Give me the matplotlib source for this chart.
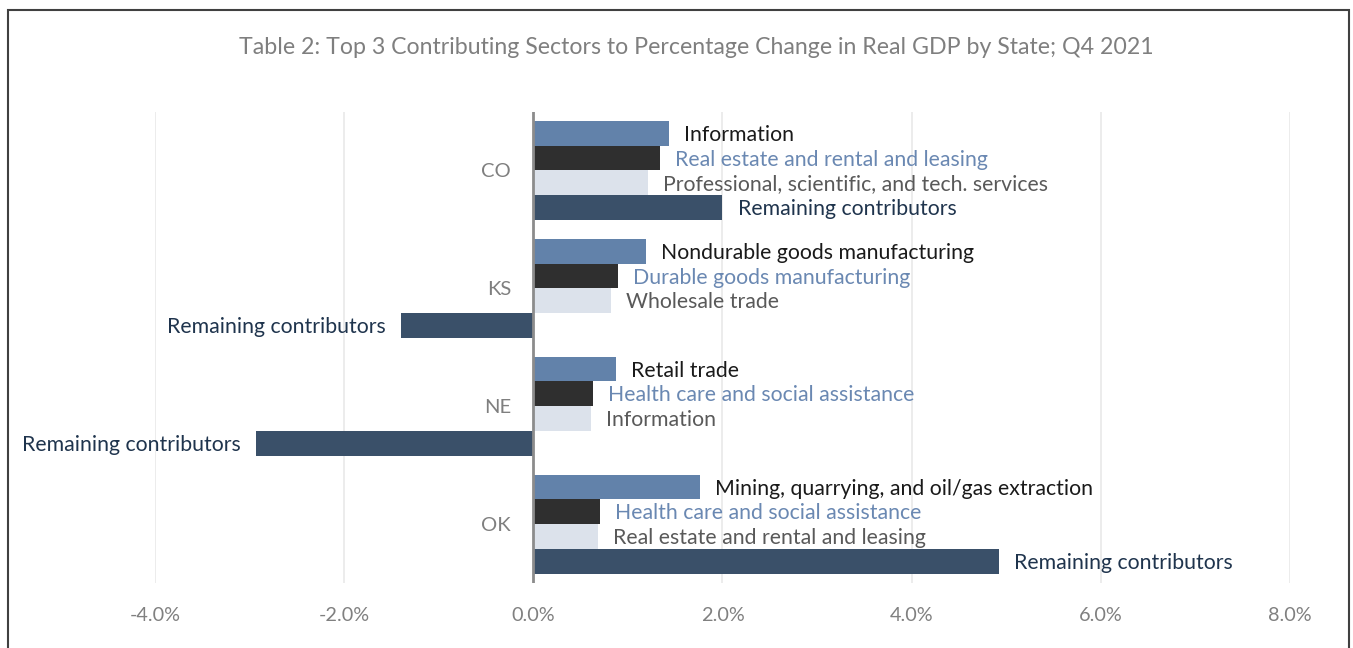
import matplotlib
matplotlib.use("Agg")
import matplotlib.pyplot as plt
import numpy as np
from matplotlib.patches import Rectangle
from matplotlib.ticker import FuncFormatter

plt.rcParams["font.family"] = ["Lato", "DejaVu Sans"]

states = ["CO", "KS", "NE", "OK"]

top1_names = ["Information", "Nondurable goods manufacturing", "Retail trade",
              "Mining, quarrying, and oil/gas extraction"]
top2_names = ["Real estate and rental and leasing", "Durable goods manufacturing",
              "Health care and social assistance", "Health care and social assistance"]
top3_names = ["Professional, scientific, and tech. services", "Wholesale trade",
              "Information", "Real estate and rental and leasing"]
remaining_names = ["Remaining contributors"] * 4

top1_values = [1.43, 1.19, 0.87, 1.76]
top2_values = [1.34, 0.89, 0.63, 0.70]
top3_values = [1.21, 0.82, 0.61, 0.68]
remaining_values = [2.00, -1.40, -2.93, 4.92]

x_ticks = [-4, -2, 0, 2, 4, 6, 8]

# bar colour, label colour for each of the four bars in a state group
series = [
    (top1_values, top1_names, "#6282aa", "#1a1a1a"),
    (top2_values, top2_names, "#2f2f2f", "#6a88b2"),
    (top3_values, top3_names, "#dce2eb", "#595959"),
    (remaining_values, remaining_names, "#3a5069", "#1f344d"),
]

W, H = 1353, 648
fig = plt.figure(figsize=(W / 100, H / 100), dpi=100)
ax = fig.add_axes([155 / W, 1 - 583 / H, (1290 - 155) / W, (583 - 111.5) / H])

bar_h = 0.21
y = np.arange(len(states))
for i, (vals, names, bar_col, txt_col) in enumerate(series):
    pos = y - 1.5 * bar_h + i * bar_h
    ax.barh(pos, vals, height=bar_h, color=bar_col, zorder=2)
    for p, v, n in zip(pos, vals, names):
        off = 11 if v >= 0 else -11
        ha = "left" if v >= 0 else "right"
        ax.annotate(n, (v, p), xytext=(off, -1.2), textcoords="offset points",
                    ha=ha, va="center", fontsize=15.3, color=txt_col,
                    annotation_clip=False)

for s, yy in zip(states, y):
    ax.annotate(s, (0, yy), xytext=(-16, -1), textcoords="offset points",
                ha="right", va="center", fontsize=14.5, color="#7f7f7f")

ax.set_xlim(-4, 8)
ax.set_ylim(3.5, -0.5)
ax.set_xticks(x_ticks)
ax.xaxis.set_major_formatter(FuncFormatter(lambda v, _: f"{v:.1f}%"))
ax.tick_params(axis="x", length=0, pad=17, labelsize=14.3, labelcolor="#808080")
ax.set_yticks([])
for sp in ax.spines.values():
    sp.set_visible(False)
for t in x_ticks:
    if t != 0:
        ax.axvline(t, color="#e9e9e9", lw=1.2, zorder=0)
ax.axvline(0, color="#8c8c8c", lw=2, zorder=3)

fig.text(696 / W, 1 - 47 / H,
         "Table 2: Top 3 Contributing Sectors to Percentage Change in Real GDP by State; Q4 2021",
         ha="center", va="center", fontsize=16.7, color="#7f7f7f")

fig.patches.append(Rectangle((8 / W, -0.1), (1349 - 8) / W, 1.1 - 10 / H,
                             transform=fig.transFigure, fill=False,
                             edgecolor="#404040", lw=1.5))

fig.savefig("out.png", dpi=100)
